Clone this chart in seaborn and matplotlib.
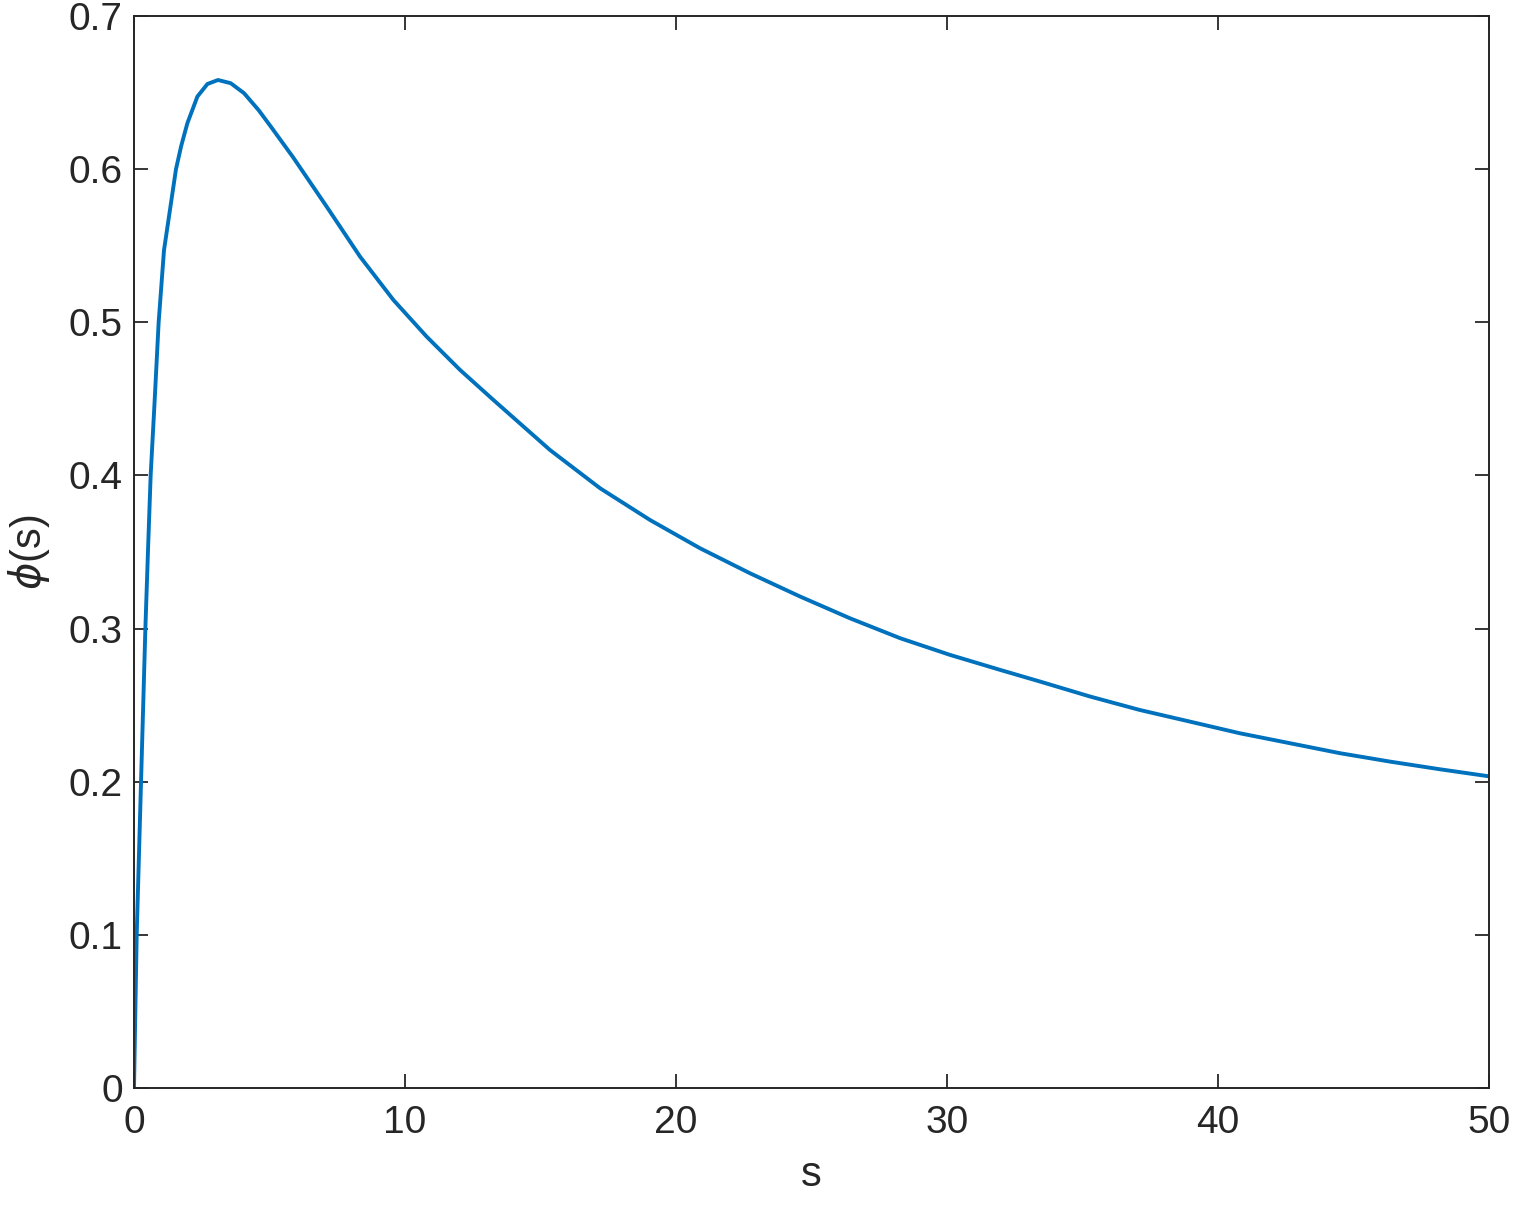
# plot.py
# Recreates the phi(s) curve figure (MATLAB-style single line plot)

import numpy as np
import pandas as pd
import matplotlib
matplotlib.use("Agg")
import matplotlib.pyplot as plt
import seaborn as sns

# ── Data ────────────────────────────────────────────────
s_vals = [0, 0.1, 0.26, 0.42, 0.517, 0.615, 0.763, 0.91, 1.107, 1.55,
          1.74, 1.97, 2.34, 2.71, 3.10, 3.57, 4.06, 4.6, 5.04, 5.88,
          7.11, 8.34, 9.57, 10.80, 12.03, 13.26, 15.35, 17.20, 19.04,
          20.89, 22.73, 24.58, 26.42, 28.27, 30.11, 31.96, 33.43,
          35.28, 37.12, 38.97, 40.81, 42.66, 44.50, 46.35, 48.19, 50]
phi_vals = [0, 0.1, 0.2, 0.3, 0.351, 0.4, 0.449, 0.5, 0.547, 0.6,
            0.615, 0.630, 0.6474, 0.6556, 0.6582, 0.6561, 0.6496,
            0.6385, 0.628, 0.6075, 0.5755, 0.5429, 0.5146, 0.4906,
            0.4689, 0.4493, 0.4166, 0.3916, 0.3709, 0.3524, 0.3361,
            0.3209, 0.3067, 0.2937, 0.2828, 0.2730, 0.2654, 0.2556,
            0.2468, 0.2392, 0.2316, 0.2251, 0.2186, 0.2131, 0.2081,
            0.2035]

x_ticks = [0, 10, 20, 30, 40, 50]
y_ticks = [0, 0.1, 0.2, 0.3, 0.4, 0.5, 0.6, 0.7]
y_tick_labels = ["0", "0.1", "0.2", "0.3", "0.4", "0.5", "0.6", "0.7"]

# ── Style ───────────────────────────────────────────────
sns.set_theme(style="white")
plt.rcParams['font.family'] = ['Liberation Sans', 'DejaVu Sans']
plt.rcParams['mathtext.fontset'] = 'dejavusans'

AX_COLOR = "#262626"
LINE_COLOR = "#0072BD"

df = pd.DataFrame({"s": s_vals, "phi": phi_vals})

fig = plt.figure(figsize=(15.14, 12.11), dpi=100)
ax = fig.add_axes([0.0885, 0.1016, 0.8950, 0.8852])

sns.lineplot(data=df, x="s", y="phi", ax=ax, color=LINE_COLOR,
             linewidth=2.8, sort=False)

ax.set_xlim(0, 50)
ax.set_ylim(0, 0.7)
ax.set_xticks(x_ticks)
ax.set_xticklabels([str(t) for t in x_ticks])
ax.set_yticks(y_ticks)
ax.set_yticklabels(y_tick_labels)

ax.tick_params(axis='both', direction='in', length=10, width=1.3,
               colors=AX_COLOR, labelsize=28, top=True, right=True,
               bottom=True, left=True, pad=8)
ax.tick_params(axis='x', pad=12)
for spine in ax.spines.values():
    spine.set_color(AX_COLOR)
    spine.set_linewidth(1.4)
    spine.set_visible(True)

ax.set_xlabel("s", fontsize=30, color=AX_COLOR, labelpad=10)
ax.set_ylabel(r"$\phi$(s)", fontsize=30, color=AX_COLOR, labelpad=12)
ax.grid(False)

fig.savefig("out.png", dpi=100)
